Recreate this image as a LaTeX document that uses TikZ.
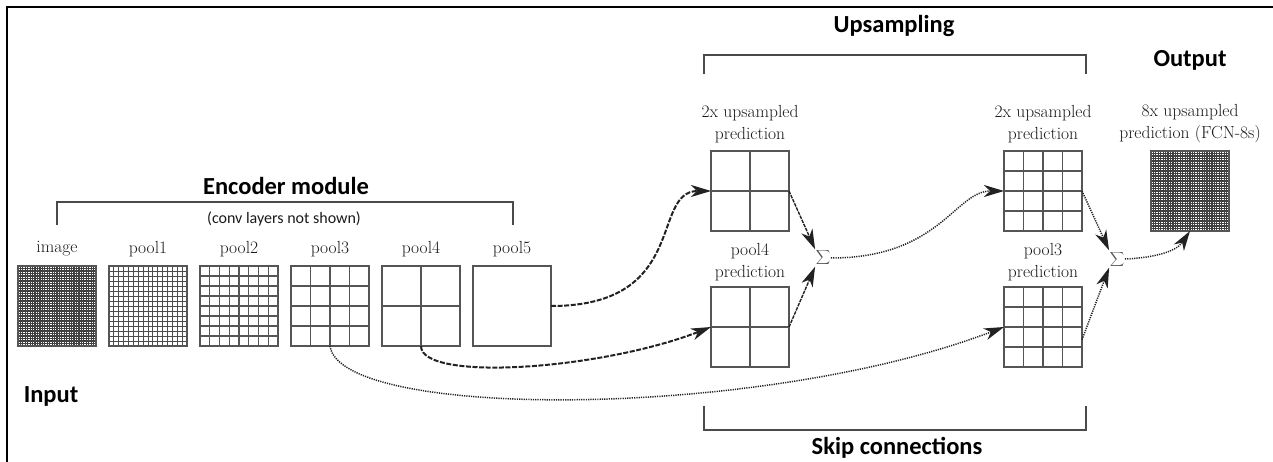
\documentclass[tikz,border=0pt]{standalone}
\usepackage{fontspec}
\newfontfamily\calib{Carlito}
\usetikzlibrary{arrows.meta,calc}

\definecolor{gridcol}{HTML}{555555}
\definecolor{inkcol}{HTML}{1A1A1A}
\definecolor{brackcol}{HTML}{4A4A4A}
\definecolor{linkcol}{HTML}{222222}

\begin{document}
\begin{tikzpicture}[x=1pt,y=-1pt,
  % square feature map with an n x n grid of cells
  cells/.style 2 args={draw=gridcol, line width=1.1pt, minimum width=78pt,
    minimum height=80pt, inner sep=0pt, outer sep=0pt,
    path picture={\ifnum#1>1
      \pgfmathtruncatemacro\lastk{#1-1}
      \foreach \k in {1,...,\lastk}{
        \draw[gridcol, line width=#2]
          ($(path picture bounding box.north west)!\k/#1!(path picture bounding box.north east)$) --
          ($(path picture bounding box.south west)!\k/#1!(path picture bounding box.south east)$);
        \draw[gridcol, line width=#2]
          ($(path picture bounding box.north west)!\k/#1!(path picture bounding box.south west)$) --
          ($(path picture bounding box.north east)!\k/#1!(path picture bounding box.south east)$);
      }\fi}},
  lbl/.style={text=inkcol, font=\fontsize{17.5}{22}\selectfont, align=center, inner sep=0pt},
  head/.style={text=black, font=\calib\bfseries\fontsize{24.5}{28}\selectfont, inner sep=0pt},
  note/.style={text=inkcol, font=\calib\fontsize{16}{20}\selectfont, inner sep=0pt},
  sumnode/.style={text=gridcol, font=\fontsize{12.5}{16}\selectfont, inner sep=0.5pt},
  bracket/.style={draw=brackcol, line width=1.8pt},
  tip/.style={-{Stealth[length=20pt,width=12pt,inset=6pt]}},
  heavy/.style={tip, draw=linkcol, line width=2pt, dash pattern=on 5pt off 1.6pt},
  light/.style={tip, draw=linkcol, line width=1.4pt, dash pattern=on 3.5pt off 1pt},
  skip/.style={tip, draw=linkcol, line width=1.5pt, dash pattern=on 1.2pt off 1.1pt},
]
\useasboundingbox (0,0) rectangle (1273,462);

% frame
\draw[black, line width=2pt] (7,462) -- (7,7) -- (1273,7);

% encoder feature maps
\node[cells={32}{1.2pt,black!75}] (img) at (57,306) {};
\node[cells={16}{1pt,black!70}]   (p1)  at (148,306) {};
\node[cells={8}{1.1pt}]   (p2)  at (239,306) {};
\node[cells={4}{1.1pt}]   (p3)  at (330,306) {};
\node[cells={2}{1.1pt}]   (p4)  at (421,306) {};
\node[cells={1}{1.1pt}]   (p5)  at (512,306) {};

\node[lbl] (limg) at (57,249) {image};
\node[lbl] (lp1) at (148,249) {pool1};
\node[lbl] (lp2) at (239,249) {pool2};
\node[lbl] (lp3) at (330,249) {pool3};
\node[lbl] (lp4) at (421,249) {pool4};
\node[lbl] (lp5) at (512,249) {pool5};

% decoder maps
\node[cells={2}{1.1pt}]  (up1) at (750,191) {};
\node[cells={2}{1.1pt}]  (pp4) at (750,327) {};
\node[cells={4}{1.1pt}]  (up2) at (1043,191) {};
\node[cells={4}{1.1pt}]  (pp3) at (1043,327) {};
\node[cells={32}{1.2pt,black!75}] (out) at (1190,191) {};

\node[lbl] (lup1) at (750,124) {2x upsampled\\prediction};
\node[lbl] (lpp4) at (750,262) {pool4\\prediction};
\node[lbl] (lup2) at (1043,124) {2x upsampled\\prediction};
\node[lbl] (lpp3) at (1043,262) {pool3\\prediction};
\node[lbl] (lout) at (1190,124) {8x upsampled\\prediction (FCN-8s)};

% fusion points
\node[sumnode] (s1) at (823,258) {$\displaystyle\sum$};
\node[sumnode] (s2) at (1117,259) {$\displaystyle\sum$};

% headings
\node[head] (tenc) at (286,186) {Encoder module};
\node[note] (tconv) at (284,219) {(conv layers not shown)};
\node[head] (tin) at (51,396) {Input};
\node[head] (tup) at (894,26) {Upsampling};
\node[head] (tout) at (1190,60) {Output};
\node[head] (tskip) at (897,448) {Skip connections};

% brackets
\draw[bracket] (57,225) -- (57,202) -- (513,202) -- (513,225);
\draw[bracket] (704,74) -- (704,55) -- (1086,55) -- (1086,74);
\draw[bracket] (704,406) -- (704,430) -- (1086,430) -- (1086,406);

% encoder to decoder
\draw[heavy] (p5.east) .. controls (690,306) and (650,191) .. (up1.west);
\draw[heavy] (p4.south) .. controls (421,382) and (600,370) .. (pp4.west);
\draw[skip] (p3.south) .. controls (340,420) and (760,420) .. (pp3.west);

% first fusion
\draw[light] (up1.east) -- (s1.north west);
\draw[light] (pp4.east) -- (s1.south west);
\draw[skip] (s1.east) .. controls (940,258) and (955,191) .. (up2.west);

% second fusion
\draw[skip] (up2.east) -- (s2.north west);
\draw[skip] (pp3.-18) -- (s2.south west);
\draw[skip] (s2.east) .. controls (1152,258) and (1176,252) .. (out.south);
\end{tikzpicture}
\end{document}
